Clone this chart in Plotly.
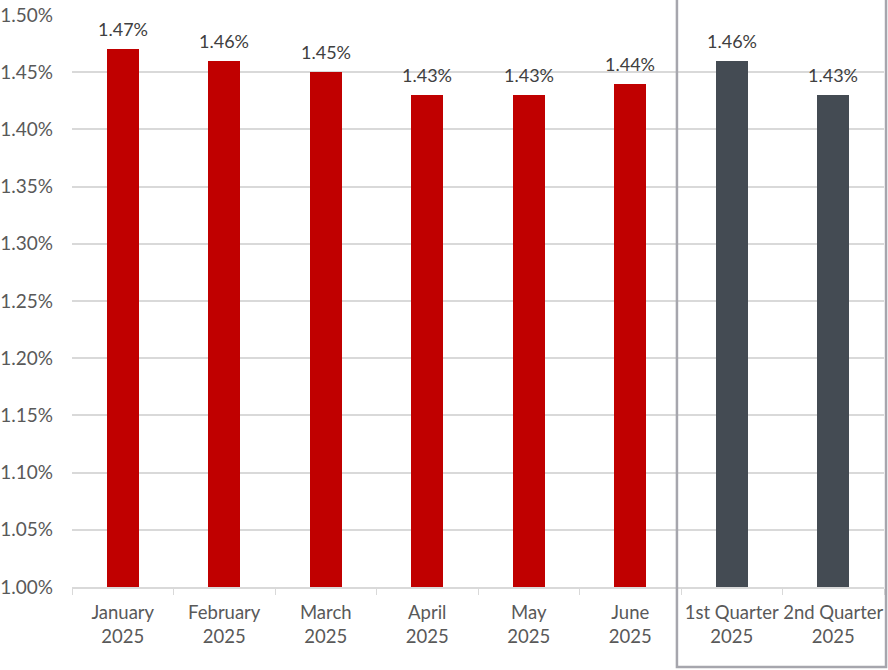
import plotly.graph_objects as go

categories = ["January<br>2025", "February<br>2025", "March<br>2025", "April<br>2025",
              "May<br>2025", "June<br>2025", "1st Quarter<br>2025", "2nd Quarter<br>2025"]
rates = [1.47, 1.46, 1.45, 1.43, 1.43, 1.44, 1.46, 1.43]
bar_colors = ["#C00000"] * 6 + ["#444B53"] * 2

FONT = "Lato"

fig = go.Figure(go.Bar(
    x=categories,
    y=rates,
    marker=dict(color=bar_colors, line_width=0),
    width=0.32,
))

# value labels above each bar
for c, v in zip(categories, rates):
    fig.add_annotation(x=c, y=v, text=f"{v:.2f}%", showarrow=False,
                       yanchor="bottom", yshift=7,
                       font=dict(family=FONT, size=18, color="#404040"))

fig.update_layout(
    width=888, height=670,
    margin=dict(l=72, r=4, t=15, b=83),
    plot_bgcolor="white", paper_bgcolor="white",
    showlegend=False,
    font=dict(family=FONT, size=19, color="#595959"),
    bargap=0.0,
)

fig.update_yaxes(
    range=[1.0, 1.5], dtick=0.05, tickformat=".2f", ticksuffix="%",
    showgrid=True, gridcolor="#D9D9D9", gridwidth=1.5,
    zeroline=False, showline=False, ticks="",
    tickfont=dict(size=19, color="#595959"),
    automargin=False, ticklabelstandoff=18,
)
fig.update_xaxes(
    showline=True, linecolor="#D9D9D9", linewidth=2,
    ticks="outside", tickson="boundaries", ticklen=6, tickcolor="#D9D9D9",
    tickfont=dict(size=18.5, color="#595959"), tickangle=0,
    automargin=False, ticklabelstandoff=8,
)

# box around the quarterly bars
fig.add_shape(type="rect", xref="paper", yref="paper",
              x0=0.745, x1=1.0025, y0=-0.14, y1=1.1,
              line=dict(color="#A6A6AD", width=2.5), layer="above")

# drop the default page margin so the figure fills the window
fig.write_html("out.html", config={"displayModeBar": False},
               post_script="document.body.style.margin='0';document.body.style.overflow='hidden';")
